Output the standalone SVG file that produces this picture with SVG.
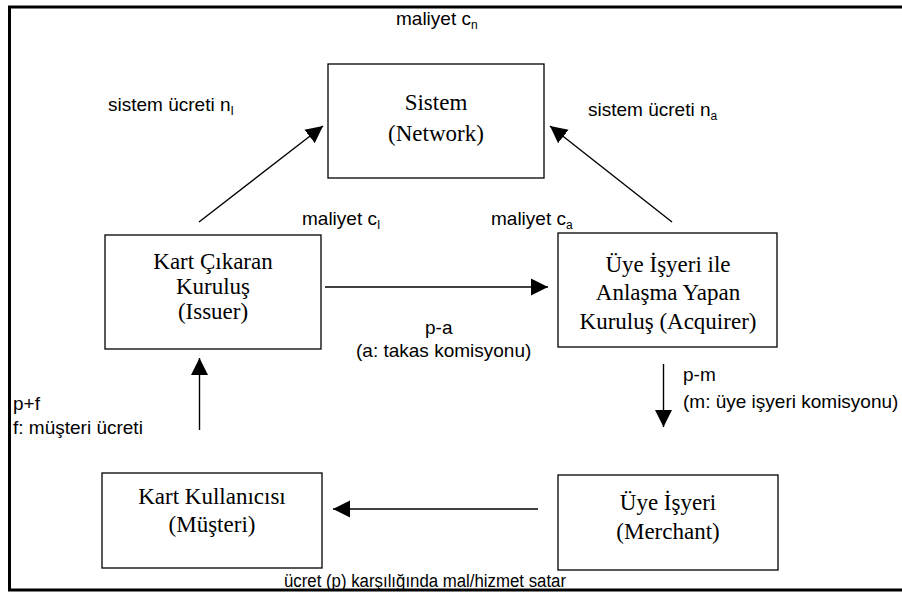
<svg xmlns="http://www.w3.org/2000/svg" width="902" height="595" viewBox="0 0 902 595">
<style>
.box{fill:#fff;stroke:#000;stroke-width:1.3}
.nt{font-family:"Liberation Serif","Times New Roman",serif;font-size:23px;fill:#000;text-anchor:middle}
.lb{font-family:"Liberation Sans",Arial,sans-serif;font-size:19px;fill:#000}
.cap{font-family:"Liberation Sans",Arial,sans-serif;font-size:18px;fill:#000}
.sub{font-size:12px}
.cn{stroke:#000;stroke-width:1.4;fill:none;marker-end:url(#ah)}
.frame{stroke:#000;stroke-width:3;fill:none}
</style>
<defs>
<marker id="ah" markerUnits="userSpaceOnUse" markerWidth="18" markerHeight="18" refX="17" refY="8.5" orient="auto" viewBox="0 0 18 17">
<path d="M0,0 L17,8.5 L0,17 z" fill="#000"/>
</marker>
</defs>
<rect width="902" height="595" fill="#fff"/>
<path class="frame" d="M902,7 H9.5 V590 H902"/>
<g id="labels">
<text class="lb" x="396" y="25">maliyet c<tspan class="sub" dy="4">n</tspan></text>
<text class="lb" x="108" y="111">sistem ücreti n<tspan class="sub" dy="4">I</tspan></text>
<text class="lb" x="588" y="116">sistem ücreti n<tspan class="sub" dy="4">a</tspan></text>
<text class="lb" x="302" y="225">maliyet c<tspan class="sub" dy="4">I</tspan></text>
<text class="lb" x="491" y="225">maliyet c<tspan class="sub" dy="4">a</tspan></text>
<text class="lb" x="425" y="334">p-a</text>
<text class="lb" x="356" y="357">(a: takas komisyonu)</text>
<text class="lb" x="13" y="410">p+f</text>
<text class="lb" x="13" y="434">f: müşteri ücreti</text>
<text class="lb" x="683" y="381">p-m</text>
<text class="lb" x="683" y="408">(m: üye işyeri komisyonu)</text>
<text class="cap" x="284" y="587" textLength="282" lengthAdjust="spacingAndGlyphs">ücret (p) karşılığında mal/hizmet satar</text>
</g>
<g id="connectors">
<line class="cn" x1="199" y1="222" x2="323" y2="126"/>
<line class="cn" x1="672" y1="222" x2="550" y2="126"/>
<line class="cn" x1="325" y1="287" x2="548" y2="287"/>
<line class="cn" x1="663.5" y1="364" x2="663.5" y2="427"/>
<line class="cn" x1="538" y1="509" x2="333" y2="509"/>
<line class="cn" x1="199.5" y1="430" x2="199.5" y2="358"/>
</g>
<g id="sistem">
<rect class="box" x="328" y="64" width="216" height="114"/>
<text class="nt" x="436" y="110">Sistem</text>
<text class="nt" x="436" y="141">(Network)</text>
</g>
<g id="issuer">
<rect class="box" x="105" y="235" width="216" height="114"/>
<text class="nt" x="213" y="269">Kart Çıkaran</text>
<text class="nt" x="213" y="294">Kuruluş</text>
<text class="nt" x="213" y="319">(Issuer)</text>
</g>
<g id="acquirer">
<rect class="box" x="558" y="233" width="219" height="114"/>
<text class="nt" x="668" y="272">Üye İşyeri ile</text>
<text class="nt" x="668" y="300">Anlaşma Yapan</text>
<text class="nt" x="668" y="329">Kuruluş (Acquirer)</text>
</g>
<g id="musteri">
<rect class="box" x="102" y="473" width="220" height="95"/>
<text class="nt" x="212" y="504">Kart Kullanıcısı</text>
<text class="nt" x="212" y="532">(Müşteri)</text>
</g>
<g id="merchant">
<rect class="box" x="558" y="475" width="220" height="95"/>
<text class="nt" x="668" y="510">Üye İşyeri</text>
<text class="nt" x="668" y="539">(Merchant)</text>
</g>
</svg>
